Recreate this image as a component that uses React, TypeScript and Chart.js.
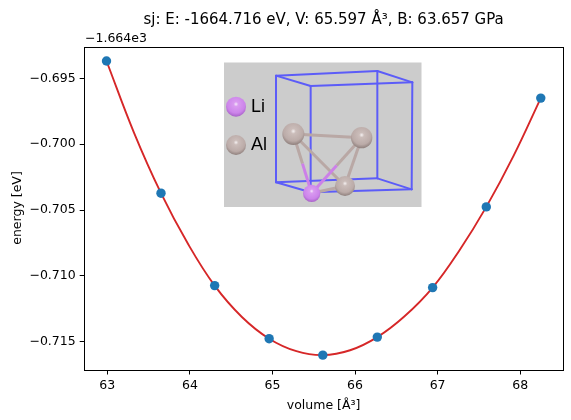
import React, { useEffect, useRef } from "react";
import { Chart, registerables } from "chart.js";

Chart.register(...registerables);

const FONT = "'DejaVu Sans'";
const titleText = "sj: E: -1664.716 eV, V: 65.597 Å³, B: 63.657 GPa";
const offsetText = "−1.664e3";
const xLabel = "volume [Å³]";
const yLabel = "energy [eV]";

const volumes = [62.99, 63.65, 64.3, 64.96, 65.61, 66.27, 66.94, 67.59, 68.25];
const energies = [-0.69368, -0.70372, -0.71074, -0.71477, -0.71602, -0.71465, -0.71089, -0.70476, -0.6965];

const fitVolumes = [62.99, 63.32, 63.65, 63.98, 64.3, 64.63, 64.96, 65.29, 65.61, 65.94, 66.27, 66.6, 66.94, 67.26, 67.59, 67.92, 68.25];
const fitEnergies = [-0.69368, -0.69908, -0.70372, -0.7076, -0.71074, -0.71312, -0.71477, -0.71572, -0.71602, -0.71565, -0.71465, -0.71307, -0.71089, -0.70811, -0.70476, -0.70089, -0.6965];

const xTicks = [63, 64, 65, 66, 67, 68];
const yTicks = [-0.715, -0.71, -0.705, -0.7, -0.695];

// Inset picture, in the 3x crop coordinates of its region
const z = (x: number, y: number): [number, number] => [215 + x / 3, 55 + y / 3];
const AL = "#b9a8a5";
const LI = "#cc80e8";

function sphere(ctx: CanvasRenderingContext2D, cx: number, cy: number, r: number, kind: "li" | "al") {
  const [x, y] = z(cx, cy);
  const rr = r / 3;
  const g = ctx.createRadialGradient(x, y - rr * 0.25, rr * 0.04, x, y - rr * 0.25, rr * 1.25);
  if (kind === "li") {
    g.addColorStop(0, "#f0dcf8");
    g.addColorStop(0.16, "#d99af0");
    g.addColorStop(0.7, "#cc84ea");
    g.addColorStop(1, "#a862c8");
  } else {
    g.addColorStop(0, "#eee8e8");
    g.addColorStop(0.16, "#cbbdba");
    g.addColorStop(0.7, "#bbaba8");
    g.addColorStop(1, "#8e7f7c");
  }
  ctx.fillStyle = g;
  ctx.beginPath();
  ctx.arc(x, y, rr, 0, Math.PI * 2);
  ctx.fill();
}

function seg(ctx: CanvasRenderingContext2D, a: [number, number], b: [number, number]) {
  const p = z(a[0], a[1]);
  const q = z(b[0], b[1]);
  ctx.beginPath();
  ctx.moveTo(p[0], p[1]);
  ctx.lineTo(q[0], q[1]);
  ctx.stroke();
}

function drawInset(ctx: CanvasRenderingContext2D) {
  ctx.save();
  ctx.fillStyle = "#cccccc";
  ctx.fillRect(224, 62.5, 197.5, 144.5);
  ctx.filter = "blur(0.4px)";
  ctx.lineCap = "round";
  ctx.strokeStyle = "#5c5cf8";
  ctx.lineWidth = 2;
  const tb: [number, number] = [183, 62], tr: [number, number] = [487, 48], tf: [number, number] = [287, 93], tq: [number, number] = [592, 82];
  const bb: [number, number] = [183, 382], br: [number, number] = [487, 370], bf: [number, number] = [287, 412], bq: [number, number] = [590, 403];
  ([[tb, tr], [tb, tf], [tr, tq], [tf, tq], [bb, br], [bb, bf], [br, bq], [bf, bq], [tb, bb], [tr, br], [tf, bf], [tq, bq]] as [number, number][][]).forEach((s) => seg(ctx, s[0], s[1]));

  const a1: [number, number] = [235, 237], a2: [number, number] = [440, 248], a3: [number, number] = [390, 393], l: [number, number] = [290, 415];
  const mid = (p: [number, number], q: [number, number]): [number, number] => [(p[0] + q[0]) / 2, (p[1] + q[1]) / 2];
  ctx.lineWidth = 3;
  ctx.lineCap = "butt";
  ctx.strokeStyle = AL;
  seg(ctx, a1, a2);
  seg(ctx, a1, a3);
  seg(ctx, a2, a3);
  seg(ctx, a3, l);
  seg(ctx, a1, mid(a1, l));
  seg(ctx, a2, mid(a2, l));
  ctx.strokeStyle = LI;
  seg(ctx, l, mid(a1, l));
  seg(ctx, l, mid(a2, l));

  sphere(ctx, 235, 237, 33, "al");
  sphere(ctx, 440, 248, 32, "al");
  sphere(ctx, 390, 393, 30, "al");
  sphere(ctx, 290, 415, 26, "li");
  sphere(ctx, 63, 155, 30, "li");
  sphere(ctx, 63, 270, 30, "al");

  ctx.fillStyle = "#000000";
  ctx.font = "18px 'Liberation Sans'";
  ctx.textBaseline = "middle";
  ctx.textAlign = "left";
  ctx.fillText("Li", 251, 107);
  ctx.fillText("Al", 251, 145);
  ctx.restore();
}

const extras = {
  id: "extras",
  afterDatasetsDraw(chart: any) {
    const { ctx, chartArea: a } = chart;
    ctx.save();
    ctx.strokeStyle = "#000000";
    ctx.lineWidth = 1;
    ctx.strokeRect(Math.round(a.left) - 0.5, Math.round(a.top) + 0.5, Math.round(a.right - a.left) + 1, Math.round(a.bottom - a.top));
    ctx.fillStyle = "#000000";
    ctx.font = `12.5px ${FONT}`;
    ctx.textAlign = "left";
    ctx.textBaseline = "alphabetic";
    ctx.fillText(offsetText, 85, 42);
    ctx.restore();
    drawInset(ctx);
  },
};

export default function App() {
  const ref = useRef<HTMLCanvasElement>(null);
  useEffect(() => {
    const chart = new Chart(ref.current as HTMLCanvasElement, {
      type: "scatter",
      data: {
        datasets: [
          {
            label: "data",
            data: volumes.map((x, i) => ({ x, y: energies[i] })),
            showLine: false,
            backgroundColor: "#1f77b4",
            pointBorderWidth: 0,
            pointRadius: 4.7,
            order: 1,
          },
          {
            label: "fit",
            data: fitVolumes.map((x, i) => ({ x, y: fitEnergies[i] })),
            showLine: true,
            borderColor: "#d62728",
            borderWidth: 1.9,
            pointRadius: 0,
            tension: 0.4,
            order: 2,
          },
        ],
      },
      options: {
        animation: false,
        responsive: false,
        events: [],
        layout: { padding: { right: 8.5, left: 0, top: 0, bottom: 0 } },
        plugins: {
          legend: { display: false },
          tooltip: { enabled: false },
          title: {
            display: true,
            text: titleText,
            color: "#000000",
            fullSize: false,
            font: { family: FONT, size: 15, weight: "normal" },
            padding: { top: 11, bottom: 17.5 },
          },
        },
        scales: {
          x: {
            type: "linear",
            min: 62.726,
            max: 68.513,
            afterBuildTicks: (s: any) => {
              s.ticks = xTicks.map((value) => ({ value }));
            },
            afterFit: (s: any) => {
              s.height = 50.5;
            },
            grid: { drawOnChartArea: false, drawTicks: true, tickLength: 5, tickColor: "#000000", tickWidth: 1 },
            border: { display: false },
            ticks: {
              autoSkip: false,
              maxRotation: 0,
              padding: 4,
              color: "#000000",
              font: { family: FONT, size: 12.5 },
              callback: (v: any) => String(v),
            },
            title: {
              display: true,
              text: xLabel,
              color: "#000000",
              font: { family: FONT, size: 12.5 },
              padding: { top: 4, bottom: 7 },
            },
          },
          y: {
            type: "linear",
            min: -0.71711,
            max: -0.69258,
            afterBuildTicks: (s: any) => {
              s.ticks = yTicks.map((value) => ({ value }));
            },
            afterFit: (s: any) => {
              s.width = 84.7;
            },
            grid: { drawOnChartArea: false, drawTicks: true, tickLength: 5, tickColor: "#000000", tickWidth: 1 },
            border: { display: false },
            ticks: {
              autoSkip: false,
              padding: 4,
              color: "#000000",
              font: { family: FONT, size: 12.5 },
              callback: (v: any) => `−${Math.abs(Number(v)).toFixed(3)}`,
            },
            title: {
              display: true,
              text: yLabel,
              color: "#000000",
              font: { family: FONT, size: 12.5 },
              padding: { top: 10, bottom: 0 },
            },
          },
        },
      },
      plugins: [extras],
    } as any);
    return () => chart.destroy();
  }, []);
  return (
    <div style={{ position: "absolute", left: 0, top: 0, width: 571, height: 420, background: "#ffffff" }}>
      <canvas ref={ref} width={571} height={420} style={{ display: "block" }} />
    </div>
  );
}
